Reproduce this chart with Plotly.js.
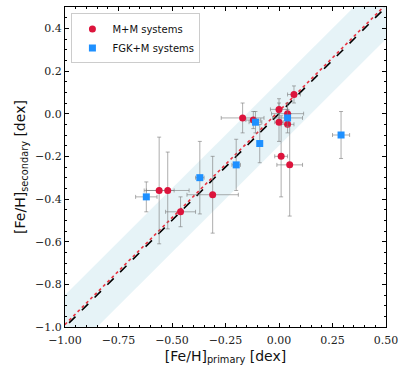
<!DOCTYPE html>
<html>
<head>
<meta charset="utf-8">
<script src="https://cdn.plot.ly/plotly-3.0.1.min.js"></script>
<style>
  html, body { margin: 0; padding: 0; background: #fff; }
  #chart { width: 407px; height: 377px; }
</style>
</head>
<body>
<div id="chart"></div>
<script>
// M+M systems
const mmPrimary   = [-0.56, -0.52, -0.46, -0.31, -0.17, -0.12, 0.00, 0.07, 0.04, 0.00, 0.04, 0.01, 0.05];
const mmSecondary = [-0.36, -0.36, -0.46, -0.38, -0.02, -0.03, 0.02, 0.09, 0.00, -0.04, -0.05, -0.20, -0.24];
const mmPrimaryErr   = [0.07, 0.10, 0.07, 0.12, 0.10, 0.035, 0.04, 0.03, 0.075, 0.02, 0.03, 0.03, 0.06];
const mmSecondaryErr = [0.25, 0.18, 0.07, 0.18, 0.07, 0.04, 0.05, 0.04, 0.05, 0.09, 0.04, 0.19, 0.24];

// FGK+M systems
const fgkPrimary   = [-0.62, -0.37, -0.20, -0.11, -0.09, 0.04, 0.29];
const fgkSecondary = [-0.39, -0.30, -0.24, -0.04, -0.14, -0.02, -0.10];
const fgkPrimaryErr   = [0.05, 0.02, 0.02, 0.03, 0.01, 0.07, 0.04];
const fgkSecondaryErr = [0.07, 0.17, 0.12, 0.05, 0.09, 0.04, 0.11];

// one-to-one line, scatter band and fitted offset
const lineEnds = [-1.1, 0.6];
const bandHalfWidth = 0.15;
const fitOffset = 0.012;

const errStyle = (arr) => ({
    type: 'data', array: arr, visible: true,
    color: 'rgba(120,120,120,0.6)', thickness: 1, width: 2
});

const band = {
    x: [lineEnds[0], lineEnds[1], lineEnds[1], lineEnds[0]],
    y: [lineEnds[0] + bandHalfWidth, lineEnds[1] + bandHalfWidth,
        lineEnds[1] - bandHalfWidth, lineEnds[0] - bandHalfWidth],
    type: 'scatter', mode: 'lines', fill: 'toself',
    fillcolor: 'rgba(173,216,230,0.3)', line: {width: 0},
    showlegend: false, hoverinfo: 'skip'
};

const oneToOne = {
    x: lineEnds, y: lineEnds,
    type: 'scatter', mode: 'lines',
    line: {color: 'black', width: 1.6, dash: 'dash'},
    showlegend: false
};

const fitLine = {
    x: lineEnds, y: lineEnds.map(v => v + fitOffset),
    type: 'scatter', mode: 'lines',
    line: {color: '#e8313f', width: 1.6, dash: 'dot'},
    showlegend: false
};

const mm = {
    x: mmPrimary, y: mmSecondary,
    error_x: errStyle(mmPrimaryErr), error_y: errStyle(mmSecondaryErr),
    type: 'scatter', mode: 'markers', name: 'M+M systems',
    marker: {color: '#dc143c', size: 7, symbol: 'circle'}
};

const fgk = {
    x: fgkPrimary, y: fgkSecondary,
    error_x: errStyle(fgkPrimaryErr), error_y: errStyle(fgkSecondaryErr),
    type: 'scatter', mode: 'markers', name: 'FGK+M systems',
    marker: {color: '#1e90ff', size: 7, symbol: 'square'}
};

const tickFont = {family: 'DejaVu Serif, serif', size: 11, color: '#222'};
const titleFont = {family: 'DejaVu Sans, sans-serif', size: 14, color: '#111'};

const layout = {
    width: 407, height: 377,
    margin: {l: 65, r: 21, t: 7, b: 50},
    paper_bgcolor: 'white', plot_bgcolor: 'white',
    showlegend: true,
    legend: {
        x: 0.02, y: 0.98, xanchor: 'left', yanchor: 'top',
        bgcolor: 'rgba(255,255,255,0.9)', bordercolor: '#cccccc', borderwidth: 1,
        font: {family: 'DejaVu Sans, sans-serif', size: 10, color: '#111'},
        itemwidth: 30, tracegroupgap: 0
    },
    xaxis: {
        range: [-1.0, 0.5], dtick: 0.25, tick0: -1, tickformat: '.2f',
        showgrid: false, zeroline: false,
        showline: true, linecolor: 'black', linewidth: 1, mirror: 'ticks',
        ticks: 'inside', ticklen: 4, tickcolor: 'black', ticklabelstandoff: 3,
        minor: {dtick: 0.05, ticks: 'inside', ticklen: 2, tickcolor: 'black', showgrid: false},
        tickfont: tickFont,
        title: {text: '[Fe/H]<sub>primary</sub> [dex]', font: titleFont, standoff: 4}
    },
    yaxis: {
        range: [-1.0, 0.5], dtick: 0.2, tick0: -1, tickformat: '.1f',
        showgrid: false, zeroline: false,
        showline: true, linecolor: 'black', linewidth: 1, mirror: 'ticks',
        ticks: 'inside', ticklen: 4, tickcolor: 'black',
        minor: {dtick: 0.05, ticks: 'inside', ticklen: 2, tickcolor: 'black', showgrid: false},
        tickfont: tickFont,
        title: {text: '[Fe/H]<sub>secondary</sub> [dex]', font: titleFont, standoff: 6}
    }
};

Plotly.newPlot('chart', [band, oneToOne, fitLine, mm, fgk], layout, {displayModeBar: false, staticPlot: true});
</script>
</body>
</html>
